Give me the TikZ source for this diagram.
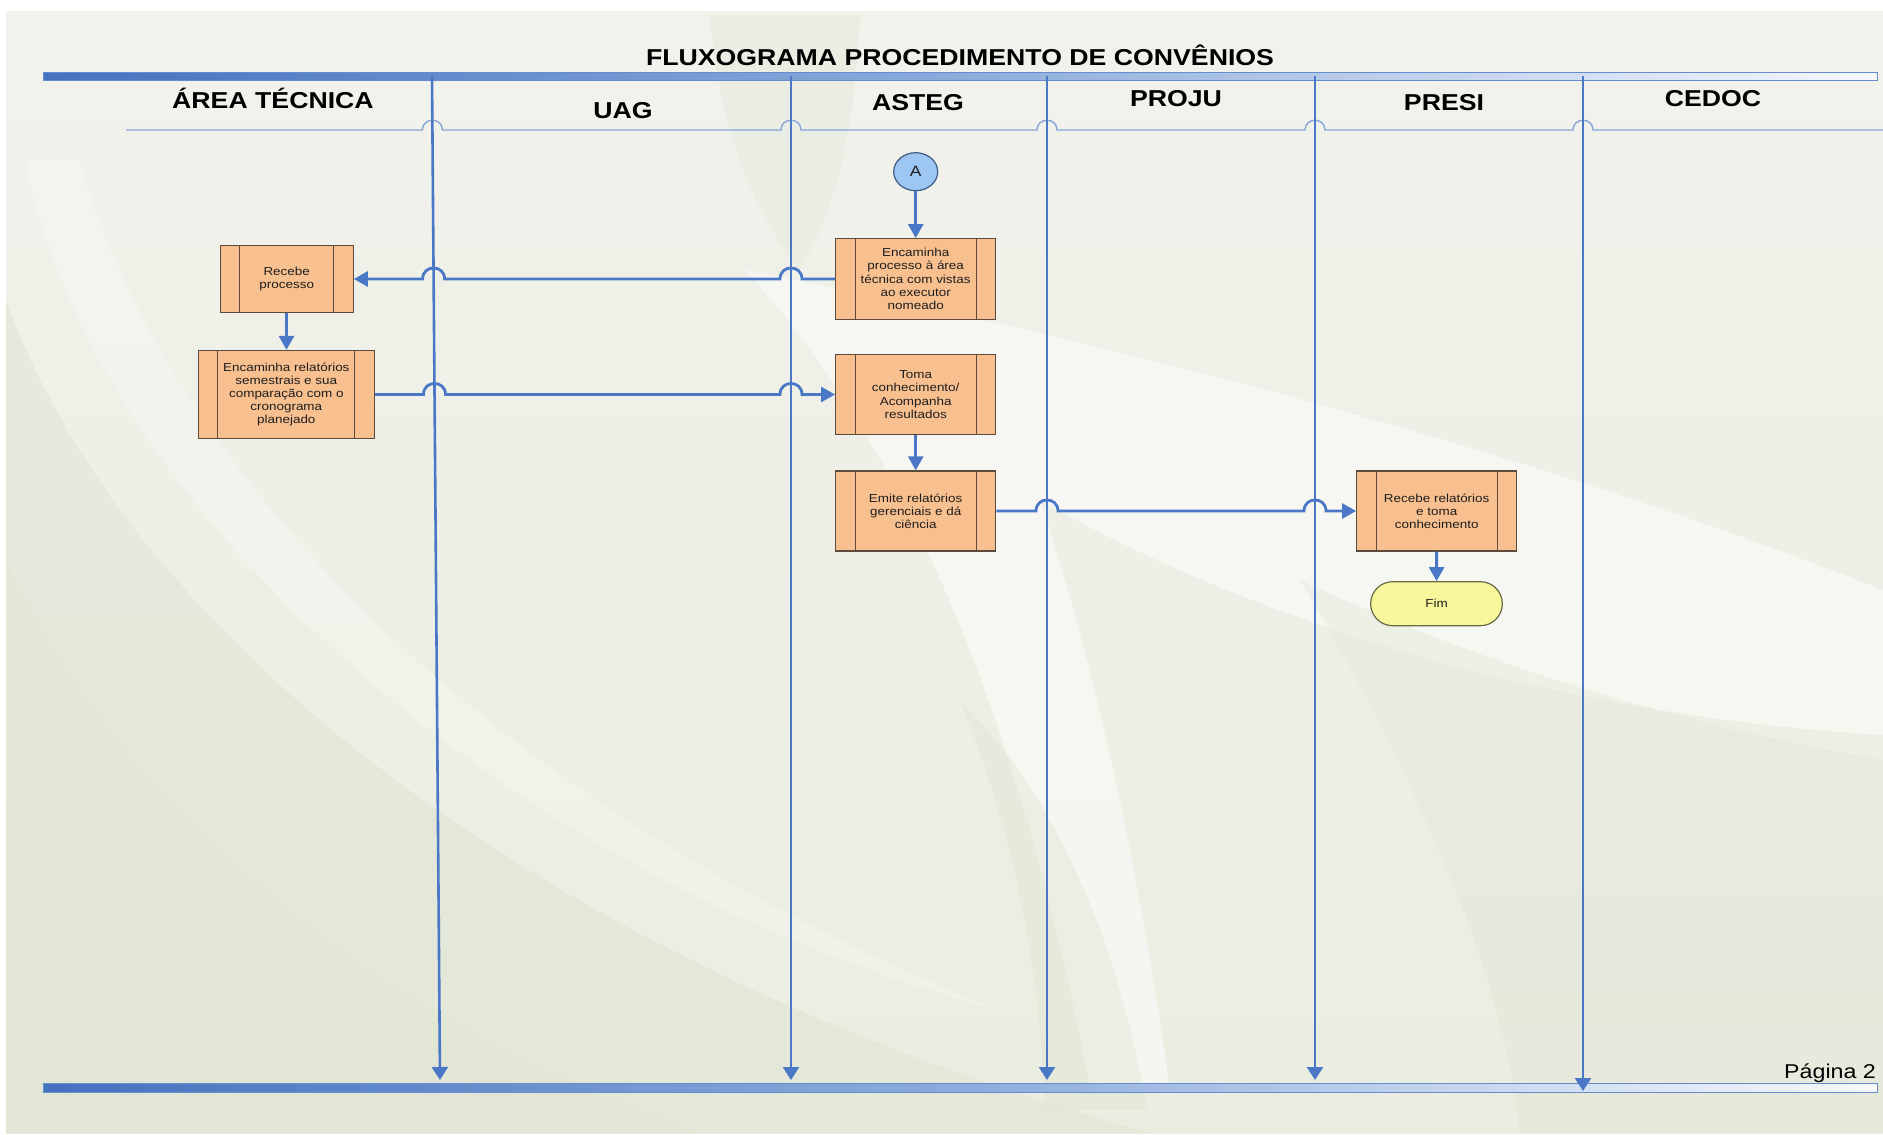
\documentclass[tikz,border=0pt]{standalone}
\usepackage{fontspec}
\setmainfont{Liberation Sans}[FakeStretch=1.16]
\usetikzlibrary{arrows.meta,shapes.geometric,calc}

\definecolor{bgbase}{HTML}{EAEDE0}
\definecolor{bgtop}{HTML}{F1F2EC}
\definecolor{bgdark}{HTML}{DFE4D1}
\definecolor{bglight}{HTML}{F8F9F5}
\definecolor{linec}{HTML}{4A78C6}
\definecolor{sepc}{HTML}{86A6DA}
\definecolor{barL}{HTML}{4572BF}
\definecolor{barM}{HTML}{8CACDC}
\definecolor{barR}{HTML}{F6F8FC}
\definecolor{boxfill}{HTML}{F9C08F}
\definecolor{boxdraw}{HTML}{5C4A3A}
\definecolor{boxtext}{HTML}{1E1E1E}
\definecolor{fimfill}{HTML}{F9F79C}
\definecolor{fimdraw}{HTML}{6B6845}
\definecolor{afill}{HTML}{9DC6F3}
\definecolor{adraw}{HTML}{3E5A86}

\newcommand{\boxfont}{\fontsize{11.6}{13.2}\selectfont}
\newcommand{\lanefont}{\fontsize{23}{27}\selectfont\bfseries}

\begin{document}
\begin{tikzpicture}[x=1pt,y=-1pt,
  conn/.style={draw=linec, line width=2.8pt, -{Triangle[length=14pt,width=15pt]}},
  lane/.style={draw=linec, line width=2.6pt, -{Triangle[length=13pt,width=16pt]}},
  bar/.style={draw=linec!85, line width=0.8pt, left color=barL, right color=barR, middle color=barM},
  lanetitle/.style={anchor=base, font=\lanefont, text=black, inner sep=0pt},
  proc/.style={draw=boxdraw, fill=boxfill, line width=1.3pt, inner sep=0pt,
    align=center, font=\boxfont, text=boxtext,
    path picture={
      \draw[boxdraw, line width=1.3pt]
        ([xshift=19.5pt]path picture bounding box.north west) -- ([xshift=19.5pt]path picture bounding box.south west)
        ([xshift=-19.5pt]path picture bounding box.north east) -- ([xshift=-19.5pt]path picture bounding box.south east);}},
  hopR/.style 2 args={insert path={-- (#1-11,#2) .. controls (#1-11,#2-14.7) and (#1+11,#2-14.7) .. (#1+11,#2)}},
  hopL/.style 2 args={insert path={-- (#1+11,#2) .. controls (#1+11,#2-14.7) and (#1-11,#2-14.7) .. (#1-11,#2)}},
  sephop/.style={insert path={-- (#1-10,130) .. controls (#1-10,117) and (#1+10,117) .. (#1+10,130)}}
]
\useasboundingbox (0,0) rectangle (1883,1135);
\fill[white] (0,0) rectangle (1883,1135);

% page background with soft swooshes
\shade[top color=bgtop, bottom color=bgbase] (6,11) rectangle (1883,1133);
\begin{scope}
  \clip (6,11) rectangle (1883,1133);
  % lower-left sweeping bands
  \fill[bgdark, opacity=0.5] (6,300) .. controls (120,620) and (520,960) .. (1150,1133) -- (6,1133) -- cycle;
  \fill[bglight, opacity=0.4] (25,160) .. controls (90,500) and (500,880) .. (1000,1010)
        .. controls (560,840) and (180,520) .. (80,160) -- cycle;
  \fill[bgdark, opacity=0.4] (6,560) .. controls (150,850) and (400,1030) .. (700,1133) -- (6,1133) -- cycle;
  % upper band between the first lanes
  \fill[bgdark, opacity=0.3] (710,15) -- (860,15) .. controls (855,120) and (840,200) .. (800,270)
        .. controls (760,220) and (720,140) .. (710,15) -- cycle;
  % light swoosh through the middle, opening towards the right
  \fill[bglight, opacity=0.8] (745,270) .. controls (1000,320) and (1450,420) .. (1883,590)
        -- (1883,735) .. controls (1550,715) and (1250,620) .. (1040,500)
        .. controls (1100,680) and (1140,880) .. (1170,1090)
        -- (1090,1090) .. controls (1030,760) and (920,460) .. (745,270) -- cycle;
  % darker bands at the lower right
  \fill[bgdark, opacity=0.35] (1883,760) .. controls (1650,720) and (1450,650) .. (1300,580)
        .. controls (1400,750) and (1500,950) .. (1520,1133) -- (1883,1133) -- cycle;
  \fill[bgdark, opacity=0.4] (960,700) .. controls (1020,850) and (1040,980) .. (1045,1110)
        -- (1147,1110) .. controls (1120,950) and (1060,800) .. (960,700) -- cycle;
\end{scope}

% title and page number
\node[anchor=base, font=\fontsize{23}{27}\selectfont\bfseries, inner sep=0pt] (title) at (960,65) {FLUXOGRAMA PROCEDIMENTO DE CONVÊNIOS};
\node[anchor=base east, font=\fontsize{20}{24}\selectfont, inner sep=0pt] (page) at (1876,1078) {Página 2};

% top and bottom bars
\path[bar] (43,72) rectangle (1877,80);
\path[bar] (43,1083) rectangle (1877,1092);

% lane headers
\node[lanetitle] (h1) at (273,108) {ÁREA TÉCNICA};
\node[lanetitle] (h2) at (623,118) {UAG};
\node[lanetitle] (h3) at (918,110) {ASTEG};
\node[lanetitle] (h4) at (1176,106) {PROJU};
\node[lanetitle] (h5) at (1444,110) {PRESI};
\node[lanetitle] (h6) at (1713,106) {CEDOC};

% header separator with hops over the lane lines
\draw[sepc, line width=1.4pt] (126,130) [sephop=432.4] [sephop=791] [sephop=1047] [sephop=1315] [sephop=1583] -- (1883,130);

% lane boundaries
\coordinate (l1t) at (432,76);   \coordinate (l1b) at (440,1080);
\coordinate (l2t) at (791,76);   \coordinate (l2b) at (791,1080);
\coordinate (l3t) at (1047,76);  \coordinate (l3b) at (1047,1080);
\coordinate (l4t) at (1315,76);  \coordinate (l4b) at (1315,1080);
\coordinate (l5t) at (1583,76);  \coordinate (l5b) at (1583,1091);
\foreach \i in {1,...,5} { \draw[lane] (l\i t) -- (l\i b); }

% process nodes
\node[ellipse, draw=adraw, fill=afill, line width=1.2pt, minimum width=44pt, minimum height=38pt, inner sep=0pt,
      font=\fontsize{15}{18}\selectfont, text=boxtext] (A) at (915.7,171.7) {A};
\node[proc, minimum width=160pt, minimum height=80.6pt] (enc1) at (915.7,279)
  {Encaminha\\processo à área\\técnica com vistas\\ao executor\\nomeado};
\node[proc, minimum width=160pt, minimum height=80.6pt] (toma) at (915.7,394.5)
  {Toma\\conhecimento/\\Acompanha\\resultados};
\node[proc, minimum width=160pt, minimum height=80pt] (emite) at (915.7,511)
  {Emite relatórios\\gerenciais e dá\\ciência};
\node[proc, minimum width=133pt, minimum height=67pt] (rec) at (286.7,279)
  {Recebe\\processo};
\node[proc, minimum width=176pt, minimum height=88pt] (encrel) at (286.3,394.5)
  {Encaminha relatórios\\semestrais e sua\\comparação com o\\cronograma\\planejado};
\node[proc, minimum width=160pt, minimum height=80pt] (recrel) at (1436.7,511)
  {Recebe relatórios\\e toma\\conhecimento};
\node[draw=fimdraw, fill=fimfill, line width=1.2pt, rounded corners=22pt, minimum width=131.7pt, minimum height=44pt,
      inner sep=0pt, font=\boxfont, text=boxtext] (fim) at (1436.5,603.7) {Fim};

% connectors
\draw[conn] (A) -- (enc1);
\draw[conn] (enc1.west) [hopL={791}{279}] [hopL={433.6}{279}] -- (rec.east);
\draw[conn] (rec) -- (encrel);
\draw[conn] (encrel.east) [hopR={434.5}{394.5}] [hopR={791}{394.5}] -- (toma.west);
\draw[conn] (toma) -- (emite);
\draw[conn] (emite.east) [hopR={1047}{511}] [hopR={1315}{511}] -- (recrel.west);
\draw[conn] (recrel) -- (fim);
\end{tikzpicture}
\end{document}
